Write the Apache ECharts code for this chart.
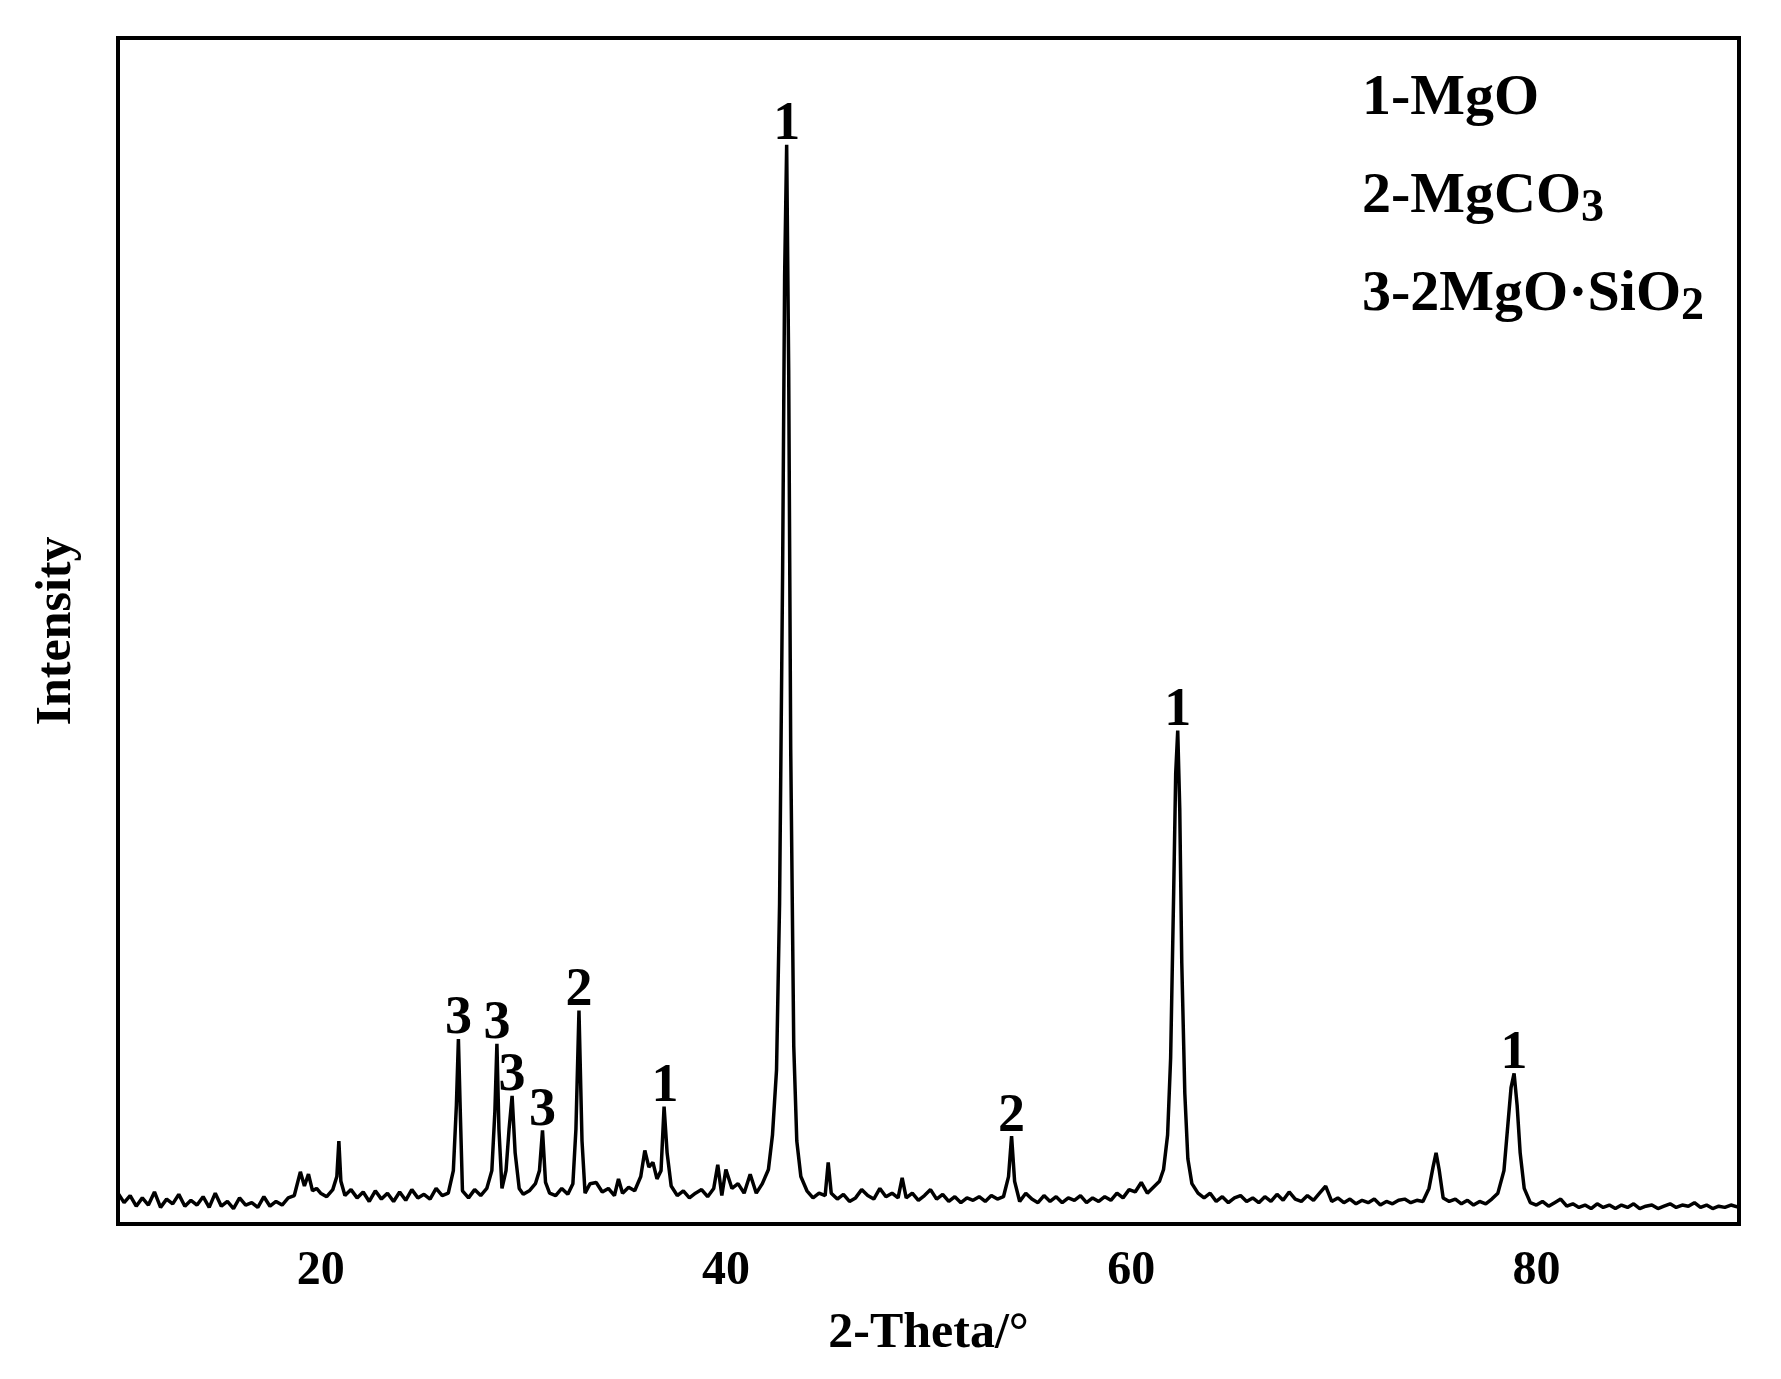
<!DOCTYPE html>
<html><head><meta charset="utf-8">
<script src="https://cdn.jsdelivr.net/npm/echarts@6/dist/echarts.min.js"></script>
<style>html,body{margin:0;padding:0;background:#fff}#c{width:1781px;height:1379px}</style>
</head><body><div id="c"></div>
<script>
// [2-theta, intensity]
const pattern = [
[10,2.6],[10.3,1.8],[10.6,2.4],[10.9,1.5],[11.2,2.2],[11.5,1.6],[11.8,2.7],[12.1,1.4],[12.4,2.1],[12.7,1.7],
[13,2.5],[13.3,1.5],[13.6,2.0],[13.9,1.6],[14.2,2.3],[14.5,1.4],[14.8,2.6],[15.1,1.5],[15.4,1.9],[15.7,1.3],
[16,2.2],[16.3,1.6],[16.6,1.8],[16.9,1.4],[17.2,2.3],[17.5,1.5],[17.8,1.9],[18.1,1.6],[18.4,2.2],[18.7,2.4],
[19,4.4],[19.2,3.2],[19.4,4.2],[19.6,2.8],[19.8,3.0],[20,2.6],[20.3,2.3],[20.6,2.9],[20.8,4.0],[20.9,7.0],
[21,3.6],[21.2,2.4],[21.5,2.9],[21.8,2.2],[22.1,2.7],[22.4,1.9],[22.7,2.8],[23,2.1],[23.3,2.6],[23.6,1.9],
[23.9,2.7],[24.2,2.0],[24.5,2.9],[24.8,2.2],[25.1,2.5],[25.4,2.1],[25.7,3.0],[26,2.4],[26.3,2.6],[26.55,4.5],
[26.7,10],[26.8,15.6],[26.9,9],[27.0,2.8],[27.3,2.2],[27.6,2.9],[27.9,2.4],[28.2,3.0],[28.45,4.5],[28.6,9.5],
[28.7,15.2],[28.8,8.0],[28.95,3.0],[29.15,4.5],[29.3,8.0],[29.45,10.8],[29.6,6.0],[29.8,3.0],[30.0,2.5],[30.3,2.8],
[30.6,3.4],[30.8,4.5],[30.95,7.9],[31.1,3.5],[31.3,2.6],[31.6,2.4],[31.9,3.0],[32.2,2.5],[32.45,3.4],[32.6,8.0],
[32.75,18.0],[32.9,7.0],[33.05,2.6],[33.3,3.4],[33.6,3.5],[33.9,2.7],[34.2,3.0],[34.5,2.4],[34.7,3.8],[34.9,2.6],
[35.2,3.1],[35.5,2.8],[35.8,4.0],[36,6.2],[36.2,4.8],[36.4,5.2],[36.6,3.8],[36.8,4.5],[36.95,9.9],[37.1,6.0],
[37.3,3.2],[37.6,2.4],[37.9,2.8],[38.2,2.2],[38.5,2.6],[38.8,2.9],[39.1,2.3],[39.4,3.0],[39.6,5.0],[39.8,2.4],
[40.0,4.6],[40.3,3.0],[40.6,3.4],[40.9,2.6],[41.2,4.2],[41.5,2.6],[41.8,3.4],[42.1,4.6],[42.3,7.5],[42.5,13],
[42.65,27],[42.8,55],[42.9,80],[43.0,91],[43.1,72],[43.2,40],[43.35,15],[43.5,7],[43.7,4],[44.0,2.8],
[44.3,2.2],[44.6,2.6],[44.9,2.4],[45.05,5.2],[45.2,2.6],[45.5,2.1],[45.8,2.5],[46.1,1.9],[46.4,2.2],[46.7,2.9],
[47,2.4],[47.3,2.1],[47.6,3.0],[47.9,2.3],[48.2,2.6],[48.5,2.2],[48.7,3.9],[48.9,2.2],[49.2,2.6],[49.5,2.0],
[49.8,2.4],[50.1,2.9],[50.4,2.1],[50.7,2.5],[51,1.9],[51.3,2.3],[51.6,1.8],[51.9,2.2],[52.2,2.0],[52.5,2.3],
[52.8,1.9],[53.1,2.4],[53.4,2.1],[53.7,2.3],[53.95,4.0],[54.1,7.4],[54.25,3.6],[54.5,1.9],[54.8,2.6],[55.1,2.1],
[55.4,1.8],[55.7,2.4],[56,1.9],[56.3,2.3],[56.6,1.8],[56.9,2.2],[57.2,2.0],[57.5,2.4],[57.8,1.8],[58.1,2.2],
[58.4,1.9],[58.7,2.3],[59,2.0],[59.3,2.6],[59.6,2.2],[59.9,2.9],[60.2,2.7],[60.5,3.5],[60.8,2.6],[61.1,3.1],
[61.4,3.6],[61.6,4.6],[61.8,7.5],[61.95,14],[62.1,28],[62.2,38],[62.3,41.6],[62.4,35],[62.5,22],[62.65,11],
[62.8,5.5],[63,3.4],[63.3,2.6],[63.6,2.2],[63.9,2.6],[64.2,1.9],[64.5,2.3],[64.8,1.8],[65.1,2.2],[65.4,2.4],
[65.7,1.9],[66,2.2],[66.3,1.8],[66.6,2.3],[66.9,1.9],[67.2,2.5],[67.5,2.0],[67.8,2.7],[68.1,2.1],[68.4,1.9],
[68.7,2.4],[69,2.0],[69.3,2.6],[69.6,3.2],[69.9,1.9],[70.2,2.2],[70.5,1.8],[70.8,2.1],[71.1,1.7],[71.4,2.0],
[71.7,1.8],[72,2.1],[72.3,1.6],[72.6,1.9],[72.9,1.7],[73.2,2.0],[73.5,2.1],[73.8,1.8],[74.1,2.0],[74.4,1.9],
[74.7,3.0],[74.9,4.8],[75.05,6.0],[75.2,4.6],[75.4,2.2],[75.7,1.9],[76,2.1],[76.3,1.7],[76.6,2.0],[76.9,1.6],
[77.2,1.9],[77.5,1.7],[77.8,2.1],[78.1,2.6],[78.4,4.5],[78.6,8.5],[78.75,11.5],[78.9,12.7],[79.05,10],[79.2,6],
[79.4,3.0],[79.7,1.8],[80,1.6],[80.3,1.9],[80.6,1.5],[80.9,1.8],[81.2,2.1],[81.5,1.5],[81.8,1.7],[82.1,1.4],
[82.4,1.6],[82.7,1.3],[83,1.7],[83.3,1.4],[83.6,1.6],[83.9,1.3],[84.2,1.6],[84.5,1.4],[84.8,1.7],[85.1,1.3],
[85.4,1.5],[85.7,1.6],[86,1.3],[86.3,1.5],[86.6,1.7],[86.9,1.4],[87.2,1.6],[87.5,1.5],[87.8,1.8],[88.1,1.4],
[88.4,1.6],[88.7,1.3],[89,1.5],[89.3,1.4],[89.6,1.6],[90,1.4]
];
const labelX = [26.8,28.7,29.45,30.95,32.75,37.0,43.0,54.1,62.3,78.9];
const labelY = [15.6,15.2,10.8,7.9,18.0,9.9,91,7.4,41.6,12.7];
const labelText = ['3','3','3','3','2','1','1','2','1','1'];
const legendLines = ['1-MgO','2-MgCO{s|3}','3-2MgO·SiO{s|2}'];
const xTicks = [20,40,60,80];

const F = 'Liberation Serif';
const chart = echarts.init(document.getElementById('c'));
chart.setOption({
  animation:false,
  grid:{left:118,right:42,top:38,bottom:155,show:true,borderColor:'#000',borderWidth:4},
  xAxis:{type:'value',min:10,max:90,interval:10,
    axisLine:{show:false},axisTick:{show:false},splitLine:{show:false},
    axisLabel:{color:'#000',fontFamily:F,fontWeight:'bold',fontSize:48,margin:24,
      formatter:v=>xTicks.includes(v)?String(v):''},
    name:'2-Theta/°',nameLocation:'middle',nameGap:85,
    nameTextStyle:{color:'#000',fontFamily:F,fontWeight:'bold',fontSize:50}},
  yAxis:{type:'value',min:0,max:100,
    axisLine:{show:false},axisTick:{show:false},splitLine:{show:false},axisLabel:{show:false},
    name:'Intensity',nameLocation:'middle',nameGap:36,
    nameTextStyle:{color:'#000',fontFamily:F,fontWeight:'bold',fontSize:50}},
  series:[
    {type:'line',data:pattern,symbol:'none',lineStyle:{color:'#000',width:3.5},z:2},
    {type:'scatter',data:labelX.map((x,i)=>[x,labelY[i],labelText[i]]),symbolSize:1,
      itemStyle:{opacity:0},
      label:{show:true,position:'top',distance:-8,formatter:p=>p.data[2],color:'#000',opacity:1,
        fontFamily:F,fontWeight:'bold',fontSize:54},z:3}
  ],
  graphic:legendLines.map((s,i)=>({type:'text',left:1362,top:70+i*98,z:10,
    style:{text:s,fill:'#000',font:'bold 58px "Liberation Serif"',
      rich:{s:{fontSize:46,fontWeight:'bold',fontFamily:F,fill:'#000',padding:[24,0,0,0]}}}}))
});
</script></body></html>
